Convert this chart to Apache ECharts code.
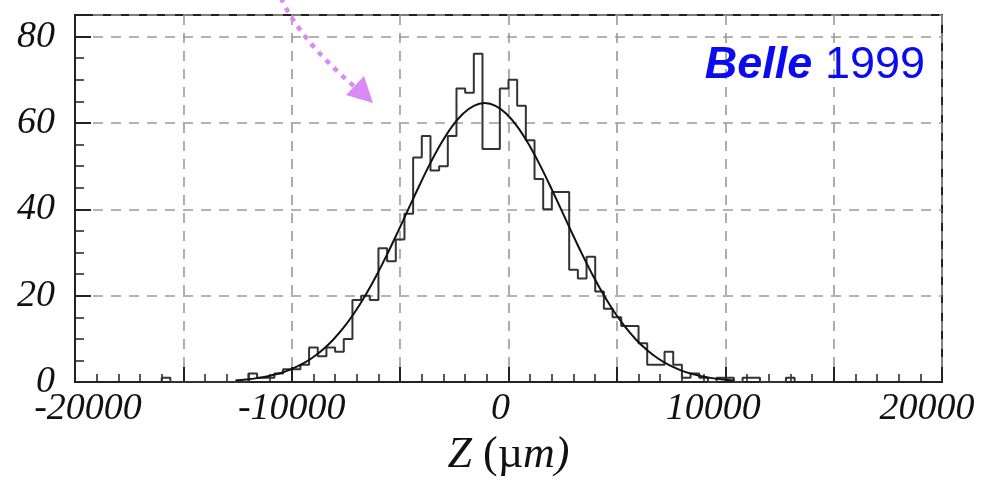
<!DOCTYPE html>
<html><head><meta charset="utf-8">
<script src="https://cdn.jsdelivr.net/npm/echarts@6/dist/echarts.min.js"></script>
<style>html,body{margin:0;padding:0;background:#fff}#c{width:982px;height:482px}</style>
</head><body><div id="c"></div>
<script>
// ---- data ----
const binWidth = 400;          // µm
const binStart = -16000;       // left edge of first listed bin
const counts = [
  1, 0, 0, 0, 0, 0, 0, 0, 0, 0,          // -16000 .. -12400
  2, 1, 1, 2, 3, 3, 4, 8, 6, 8,          // -12000 .. -8400
  7, 10, 19, 20, 19, 31, 28, 33, 39, 52, // -8000 .. -4400
  57, 49, 50, 57, 68, 67, 76, 54, 54, 68,// -4000 .. -400
  70, 64, 56, 47, 40, 44, 44, 26, 24, 29,// 0 .. 3600
  21, 17, 15, 13, 13, 9, 4, 4, 7, 4,     // 4000 .. 7600
  1, 2, 1, 0, 1, 1, 0, 1, 1, 0,          // 8000 .. 11600
  0, 0, 1                                // 12000 .. 12800
];
const fitZ = [-12600,-12100,-11600,-11100,-10600,-10100,-9600,-9100,-8600,-8100,-7600,-7100,-6600,-6100,-5600,-5100,-4600,-4100,-3600,-3100,-2600,-2100,-1600,-1100,-600,-100,400,900,1400,1900,2400,2900,3400,3900,4400,4900,5400,5900,6400,6900,7400,7900,8400,8900,9400,9900,10400];
const fitN = [0.39,0.61,0.92,1.36,1.98,2.84,3.98,5.47,7.38,9.76,12.66,16.11,20.11,24.63,29.58,34.85,40.27,45.65,50.76,55.36,59.23,62.15,63.98,64.6,63.98,62.15,59.23,55.36,50.76,45.65,40.27,34.85,29.58,24.63,20.11,16.11,12.66,9.76,7.38,5.47,3.98,2.84,1.98,1.36,0.92,0.61,0.39];
const xTickLabels = ['-20000','-10000','0','10000','20000'];
const yTickLabels = ['0','20','40','60','80'];

// ---- build series ----
const histPts = [[binStart, 0]];
counts.forEach((c, i) => histPts.push([binStart + i * binWidth, c]));
histPts.push([binStart + counts.length * binWidth, 0]);
const fitPts = fitZ.map((z, i) => [z, fitN[i]]);

const serif = 'Liberation Serif';
const base = {fontFamily: serif, fontStyle: 'italic', fontSize: 38, color: '#111'};
const xRich = {
  a: Object.assign({}, base, {padding: [0, 0, 0, 26]}),
  b: Object.assign({}, base),
  c: Object.assign({}, base, {padding: [0, 16, 0, 0]}),
  d: Object.assign({}, base, {padding: [0, 24, 0, 0]}),
  e: Object.assign({}, base, {padding: [0, 30, 0, 0]})
};
const xStyleKeys = ['a', 'b', 'c', 'd', 'e'];

const chart = echarts.init(document.getElementById('c'), null, {renderer: 'canvas'});
chart.setOption({
  animation: false,
  backgroundColor: '#fff',
  grid: {left: 75, right: 40, top: 15, bottom: 97, show: true, borderColor: '#222', borderWidth: 2, backgroundColor: 'transparent'},
  xAxis: {
    type: 'value', min: -20000, max: 20000, interval: 5000,
    axisLine: {show: true, onZero: false, lineStyle: {color: '#222', width: 2}},
    axisTick: {show: true, inside: true, length: 15, lineStyle: {color: '#222', width: 2}},
    minorTick: {show: true, splitNumber: 5, length: 8, lineStyle: {color: '#222', width: 1.5}},
    splitLine: {show: true, lineStyle: {color: '#9a9a9a', width: 1.6, type: [10, 8]}},
    axisLabel: {
      margin: 8,
      formatter: v => {
        const s = String(v);
        const i = xTickLabels.indexOf(s);
        return i < 0 ? '' : '{' + xStyleKeys[i] + '|' + s + '}';
      },
      rich: xRich
    },
    name: '{i|Z }{u|(µ}{i|m)}',
    nameLocation: 'middle', nameGap: 48,
    nameTextStyle: {
      rich: {
        i: {fontFamily: serif, fontStyle: 'italic', fontSize: 44, color: '#111'},
        u: {fontFamily: serif, fontSize: 44, color: '#111'}
      }
    }
  },
  yAxis: [{
    type: 'value', min: 0, max: 85, interval: 20,
    axisLine: {show: true, onZero: false, lineStyle: {color: '#222', width: 2}},
    axisTick: {show: true, inside: true, length: 16, lineStyle: {color: '#222', width: 2}},
    splitLine: {show: true, lineStyle: {color: '#9a9a9a', width: 1.6, type: [10, 8]}},
    axisLabel: {
      margin: 20,
      fontFamily: serif, fontStyle: 'italic', fontSize: 38, color: '#111',
      formatter: v => (yTickLabels.indexOf(String(v)) >= 0 ? String(v) : '')
    }
  }, {
    type: 'value', min: 0, max: 85, interval: 5, position: 'left',
    axisLine: {show: false, onZero: false},
    axisTick: {show: true, inside: true, length: 9, lineStyle: {color: '#222', width: 1.5}},
    splitLine: {show: false},
    axisLabel: {show: false}
  }],
  series: [{
    type: 'line', data: histPts, step: 'end', showSymbol: false, symbol: 'none',
    lineStyle: {color: '#333', width: 2}, z: 3
  }, {
    type: 'line', data: fitPts, smooth: 0.4, showSymbol: false, symbol: 'none',
    lineStyle: {color: '#111', width: 2}, z: 4
  }],
  graphic: [
    {
      type: 'text', x: 925, y: 88,
      style: {
        text: '{b|Belle}{n| 1999}', align: 'right', verticalAlign: 'bottom',
        rich: {
          b: {fontFamily: 'Liberation Sans', fontWeight: 'bold', fontStyle: 'italic', fontSize: 45, fill: '#0b0bf2'},
          n: {fontFamily: 'Liberation Sans', fontSize: 45, fill: '#0b0bf2'}
        }
      }, z: 10
    },
    {
      type: 'bezierCurve',
      shape: {x1: 281, y1: -2, cpx1: 300, cpy1: 40, x2: 355, y2: 87},
      style: {stroke: '#da8af6', lineWidth: 4.5, lineDash: [5, 6], fill: null}, z: 10
    },
    {
      type: 'polygon',
      shape: {points: [[346, 95], [364, 76], [373, 103]]},
      style: {fill: '#da8af6'}, z: 10
    }
  ]
});
</script></body></html>
